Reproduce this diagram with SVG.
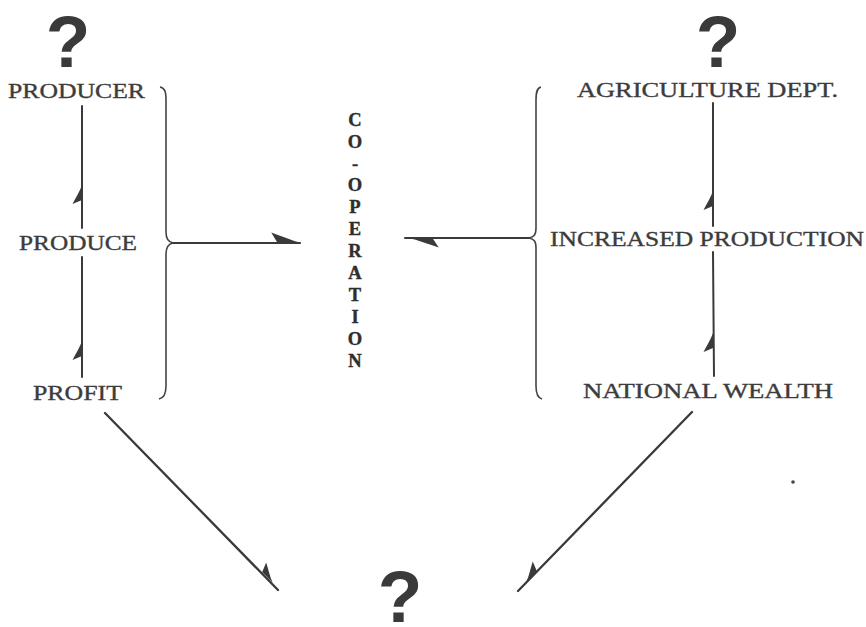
<svg xmlns="http://www.w3.org/2000/svg" xmlns:xlink="http://www.w3.org/1999/xlink" width="866" height="627" viewBox="0 0 866 627">
<style>
.lbl{font-family:"Liberation Serif","Times New Roman",serif;font-size:21px;fill:#3c3c3c;stroke:#3c3c3c;stroke-width:0.35}
.coop{font-family:"Liberation Serif","Times New Roman",serif;font-size:18.5px;font-weight:bold;fill:#2e2e2e;stroke:#2e2e2e;stroke-width:0.4;text-anchor:middle}
.q{font-family:"Liberation Sans",Arial,sans-serif;font-size:73px;font-weight:bold;fill:#3a3a3a;text-anchor:middle}
.ln{stroke:#3a3a3a;stroke-width:2;fill:none;stroke-linecap:round}
.br{stroke:#444;stroke-width:1.6;fill:none}
.barb{fill:#3a3a3a}
</style>
<defs>
<path id="barb" d="M0,-1 C-2,5 -6,11 -9.5,18 L0,14 Z"/>
</defs>
<rect width="866" height="627" fill="#ffffff"/>
<g id="q-producer"><text class="q" x="68" y="67">?</text></g>
<g id="q-agri"><text class="q" x="718" y="67">?</text></g>
<g id="q-result"><text class="q" x="400" y="622">?</text></g>
<g id="producer"><text class="lbl" x="8" y="98" textLength="137" lengthAdjust="spacingAndGlyphs">PRODUCER</text></g>
<g id="produce"><text class="lbl" x="19" y="250" textLength="118" lengthAdjust="spacingAndGlyphs">PRODUCE</text></g>
<g id="profit"><text class="lbl" x="33" y="400" textLength="89" lengthAdjust="spacingAndGlyphs">PROFIT</text></g>
<g id="agriculture"><text class="lbl" x="577" y="97" textLength="261" lengthAdjust="spacingAndGlyphs">AGRICULTURE DEPT.</text></g>
<g id="increased"><text class="lbl" x="550" y="246" textLength="314" lengthAdjust="spacingAndGlyphs">INCREASED PRODUCTION</text></g>
<g id="wealth"><text class="lbl" x="583" y="398" textLength="250" lengthAdjust="spacingAndGlyphs">NATIONAL WEALTH</text></g>
<g id="cooperation">
<text class="coop" x="355" y="126">C</text>
<text class="coop" x="355" y="148">O</text>
<text class="coop" x="355" y="170">-</text>
<text class="coop" x="355" y="191">O</text>
<text class="coop" x="355" y="213">P</text>
<text class="coop" x="355" y="235">E</text>
<text class="coop" x="355" y="257">R</text>
<text class="coop" x="355" y="279">A</text>
<text class="coop" x="355" y="301">T</text>
<text class="coop" x="355" y="323">I</text>
<text class="coop" x="355" y="345">O</text>
<text class="coop" x="355" y="367">N</text>
</g>
<g id="connectors">
<path class="br" d="M160,87 C165,88 166,92 166,100 L166,232 C166,239 168,242 173,243 C168,244 166,247 166,254 L166,386 C166,394 164,398 159,399"/>
<path class="br" d="M541,87 C537,88 536,92 536,100 L536,228 C536,235 534,237 529,238 C534,239 536,241 536,248 L536,386 C536,394 538,398 542,399"/>
<line class="ln" x1="82" y1="106" x2="82" y2="228"/>
<line class="ln" x1="82" y1="257" x2="82" y2="377"/>
<line class="ln" x1="713" y1="103" x2="713" y2="226"/>
<line class="ln" x1="713" y1="252" x2="714" y2="376"/>
<line class="ln" x1="173" y1="243" x2="300" y2="243"/>
<line class="ln" x1="405" y1="238" x2="529" y2="238"/>
<line class="ln" x1="105" y1="413" x2="278" y2="590" style="stroke-width:2.3"/>
<line class="ln" x1="692" y1="412" x2="518" y2="591" style="stroke-width:2.3"/>
<use xlink:href="#barb" class="barb" transform="translate(82,186)"/>
<use xlink:href="#barb" class="barb" transform="translate(82,342)"/>
<use xlink:href="#barb" class="barb" transform="translate(713,192)"/>
<use xlink:href="#barb" class="barb" transform="translate(713,334)"/>
<use xlink:href="#barb" class="barb" transform="translate(300,243) rotate(90) scale(1.1,1.6)"/>
<use xlink:href="#barb" class="barb" transform="translate(410,238) rotate(-90) scale(1.0,1.6)"/>
<use xlink:href="#barb" class="barb" transform="translate(272,582) rotate(135.6)"/>
<use xlink:href="#barb" class="barb" transform="translate(527,581) rotate(224.2) scale(-1,1)"/>
</g>
<circle cx="793" cy="482" r="1.8" fill="#444"/>
</svg>
